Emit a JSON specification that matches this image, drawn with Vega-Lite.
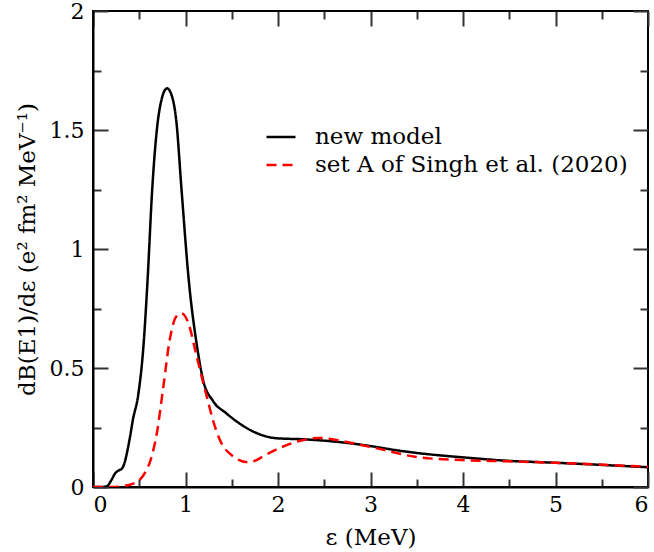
{
  "$schema": "https://vega.github.io/schema/vega-lite/v6.json",
  "autosize": "none",
  "width": 555,
  "height": 476,
  "padding": {"left": 93, "top": 11, "right": 6, "bottom": 65},
  "background": "white",
  "config": {
    "font": "DejaVu Serif",
    "view": {"stroke": "black", "strokeWidth": 2},
    "axis": {
      "grid": false,
      "domainColor": "black", "domainWidth": 2,
      "tickColor": "#333", "tickWidth": 2,
      "labelFont": "DejaVu Serif", "labelFontSize": 22, "labelColor": "black",
      "titleFont": "DejaVu Serif", "titleFontSize": 23, "titleFontWeight": "normal", "titleColor": "black"
    },
    "legend": {
      "labelFont": "DejaVu Serif", "labelFontSize": 23, "labelColor": "black", "labelLimit": 0
    }
  },
  "datasets": {
    "curves": [
      {"e": 0.0, "v": 0.0, "s": "new model"},
      {"e": 0.1, "v": 0.0, "s": "new model"},
      {"e": 0.15, "v": 0.003, "s": "new model"},
      {"e": 0.2, "v": 0.03, "s": "new model"},
      {"e": 0.24, "v": 0.058, "s": "new model"},
      {"e": 0.28, "v": 0.07, "s": "new model"},
      {"e": 0.31, "v": 0.076, "s": "new model"},
      {"e": 0.34, "v": 0.1, "s": "new model"},
      {"e": 0.365, "v": 0.14, "s": "new model"},
      {"e": 0.4, "v": 0.21, "s": "new model"},
      {"e": 0.43, "v": 0.28, "s": "new model"},
      {"e": 0.49, "v": 0.39, "s": "new model"},
      {"e": 0.545, "v": 0.59, "s": "new model"},
      {"e": 0.59, "v": 0.87, "s": "new model"},
      {"e": 0.64, "v": 1.25, "s": "new model"},
      {"e": 0.69, "v": 1.5, "s": "new model"},
      {"e": 0.74, "v": 1.626, "s": "new model"},
      {"e": 0.8, "v": 1.675, "s": "new model"},
      {"e": 0.86, "v": 1.633, "s": "new model"},
      {"e": 0.9, "v": 1.54, "s": "new model"},
      {"e": 0.957, "v": 1.25, "s": "new model"},
      {"e": 1.035, "v": 0.87, "s": "new model"},
      {"e": 1.125, "v": 0.59, "s": "new model"},
      {"e": 1.19, "v": 0.45, "s": "new model"},
      {"e": 1.3, "v": 0.36, "s": "new model"},
      {"e": 1.44, "v": 0.31, "s": "new model"},
      {"e": 1.58, "v": 0.268, "s": "new model"},
      {"e": 1.76, "v": 0.228, "s": "new model"},
      {"e": 1.98, "v": 0.205, "s": "new model"},
      {"e": 2.3, "v": 0.2, "s": "new model"},
      {"e": 2.73, "v": 0.186, "s": "new model"},
      {"e": 3.0, "v": 0.172, "s": "new model"},
      {"e": 3.27, "v": 0.155, "s": "new model"},
      {"e": 3.48, "v": 0.144, "s": "new model"},
      {"e": 3.985, "v": 0.125, "s": "new model"},
      {"e": 4.49, "v": 0.11, "s": "new model"},
      {"e": 4.99, "v": 0.102, "s": "new model"},
      {"e": 6.0, "v": 0.083, "s": "new model"},
      {"e": 0.0, "v": 0.0, "s": "set A of Singh et al. (2020)"},
      {"e": 0.2, "v": 0.0, "s": "set A of Singh et al. (2020)"},
      {"e": 0.33, "v": 0.004, "s": "set A of Singh et al. (2020)"},
      {"e": 0.42, "v": 0.012, "s": "set A of Singh et al. (2020)"},
      {"e": 0.51, "v": 0.032, "s": "set A of Singh et al. (2020)"},
      {"e": 0.57, "v": 0.065, "s": "set A of Singh et al. (2020)"},
      {"e": 0.62, "v": 0.11, "s": "set A of Singh et al. (2020)"},
      {"e": 0.69, "v": 0.226, "s": "set A of Singh et al. (2020)"},
      {"e": 0.76, "v": 0.42, "s": "set A of Singh et al. (2020)"},
      {"e": 0.83, "v": 0.62, "s": "set A of Singh et al. (2020)"},
      {"e": 0.9, "v": 0.716, "s": "set A of Singh et al. (2020)"},
      {"e": 0.957, "v": 0.73, "s": "set A of Singh et al. (2020)"},
      {"e": 1.03, "v": 0.69, "s": "set A of Singh et al. (2020)"},
      {"e": 1.12, "v": 0.55, "s": "set A of Singh et al. (2020)"},
      {"e": 1.21, "v": 0.41, "s": "set A of Singh et al. (2020)"},
      {"e": 1.33, "v": 0.24, "s": "set A of Singh et al. (2020)"},
      {"e": 1.4, "v": 0.175, "s": "set A of Singh et al. (2020)"},
      {"e": 1.48, "v": 0.14, "s": "set A of Singh et al. (2020)"},
      {"e": 1.58, "v": 0.113, "s": "set A of Singh et al. (2020)"},
      {"e": 1.65, "v": 0.105, "s": "set A of Singh et al. (2020)"},
      {"e": 1.75, "v": 0.11, "s": "set A of Singh et al. (2020)"},
      {"e": 1.83, "v": 0.127, "s": "set A of Singh et al. (2020)"},
      {"e": 2.05, "v": 0.169, "s": "set A of Singh et al. (2020)"},
      {"e": 2.3, "v": 0.2, "s": "set A of Singh et al. (2020)"},
      {"e": 2.44, "v": 0.206, "s": "set A of Singh et al. (2020)"},
      {"e": 2.6, "v": 0.2, "s": "set A of Singh et al. (2020)"},
      {"e": 2.73, "v": 0.19, "s": "set A of Singh et al. (2020)"},
      {"e": 3.12, "v": 0.158, "s": "set A of Singh et al. (2020)"},
      {"e": 3.48, "v": 0.127, "s": "set A of Singh et al. (2020)"},
      {"e": 3.985, "v": 0.113, "s": "set A of Singh et al. (2020)"},
      {"e": 4.49, "v": 0.108, "s": "set A of Singh et al. (2020)"},
      {"e": 4.99, "v": 0.102, "s": "set A of Singh et al. (2020)"},
      {"e": 6.0, "v": 0.085, "s": "set A of Singh et al. (2020)"}
    ]
  },
  "data": {"name": "curves"},
  "resolve": {"axis": {"x": "independent", "y": "independent"}},
  "layer": [
    {
      "mark": {"type": "line", "strokeWidth": 2.5, "interpolate": "monotone", "clip": true},
      "encoding": {
        "x": {
          "field": "e", "type": "quantitative",
          "scale": {"domain": [0, 6], "nice": false},
          "axis": {
            "orient": "bottom",
            "title": "ε (MeV)",
            "values": [0, 0.5, 1, 1.5, 2, 2.5, 3, 3.5, 4, 4.5, 5, 5.5, 6],
            "labelExpr": "datum.value % 1 === 0 ? '' + datum.value : ''",
            "tickSize": {"condition": {"test": "datum.value % 1 === 0", "value": -15}, "value": -8},
            "labelPadding": 22,
            "titlePadding": 11
          }
        },
        "y": {
          "field": "v", "type": "quantitative",
          "scale": {"domain": [0, 2], "nice": false},
          "axis": {
            "orient": "left",
            "title": "dB(E1)/dε (e² fm² MeV⁻¹)",
            "values": [0, 0.25, 0.5, 0.75, 1, 1.25, 1.5, 1.75, 2],
            "labelExpr": "datum.value % 0.5 === 0 ? '' + datum.value : ''",
            "tickSize": {"condition": {"test": "datum.value % 0.5 === 0", "value": -15}, "value": -8},
            "labelPadding": 24,
            "titlePadding": 10
          }
        },
        "color": {
          "field": "s", "type": "nominal",
          "scale": {"domain": ["new model", "set A of Singh et al. (2020)"], "range": ["black", "#ff0000"]},
          "legend": {
            "title": null, "orient": "none", "legendX": 172, "legendY": 110,
            "symbolType": "stroke", "symbolSize": 841, "symbolStrokeWidth": 2.5,
            "labelOffset": 18, "rowPadding": 0
          }
        },
        "strokeDash": {
          "field": "s", "type": "nominal",
          "scale": {"domain": ["new model", "set A of Singh et al. (2020)"], "range": [[1, 0], [10, 6]]},
          "legend": {
            "title": null, "orient": "none", "legendX": 172, "legendY": 110,
            "symbolType": "stroke", "symbolSize": 841, "symbolStrokeWidth": 2.5,
            "labelOffset": 18, "rowPadding": 0
          }
        }
      }
    },
    {
      "mark": {"type": "line", "strokeOpacity": 0},
      "encoding": {
        "x": {
          "field": "e", "type": "quantitative",
          "axis": {
            "orient": "top", "title": null, "labels": false, "domain": false,
            "values": [0, 0.5, 1, 1.5, 2, 2.5, 3, 3.5, 4, 4.5, 5, 5.5, 6],
            "tickSize": {"condition": {"test": "datum.value % 1 === 0", "value": -15}, "value": -8}
          }
        },
        "y": {
          "field": "v", "type": "quantitative",
          "axis": {
            "orient": "right", "title": null, "labels": false, "domain": false,
            "values": [0, 0.25, 0.5, 0.75, 1, 1.25, 1.5, 1.75, 2],
            "tickSize": {"condition": {"test": "datum.value % 0.5 === 0", "value": -15}, "value": -8}
          }
        }
      }
    }
  ]
}
